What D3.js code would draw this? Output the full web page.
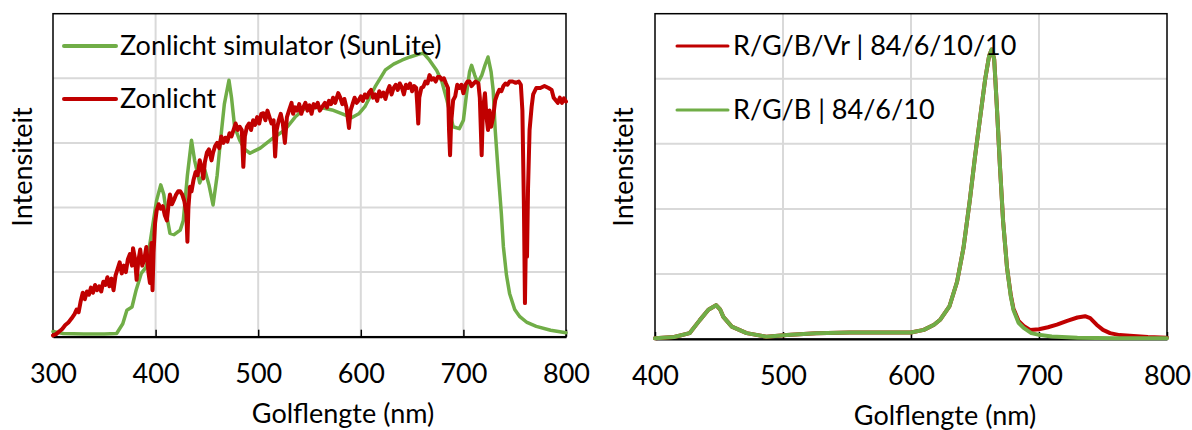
<!DOCTYPE html>
<html>
<head>
<meta charset="utf-8">
<script src="https://cdn.jsdelivr.net/npm/d3@7/dist/d3.min.js"></script>
<style>
html,body{margin:0;padding:0;background:#fff;}
svg{display:block;}
text{font-family:Lato,"Open Sans",sans-serif;fill:#000;}
</style>
</head>
<body>
<svg id="chart" width="1192" height="430"></svg>
<script>
// ---------- Data ----------
const xTicks = [300, 400, 500, 600, 700, 800];
const xTicksRight = [400, 500, 600, 700, 800];
const yGrid = [0, 1, 2, 3, 4, 5];

// Left panel: Zonlicht simulator (SunLite)
const simWl = [300,310,330,350,362,368,372,377,381,386,391,396,401,405,408,411,414,418,424,427,431,435,438,443,448,452,456,460,463,467,471.5,474,477,482,487,492,497,502,514,526,536,546,560,572,582,591,598,604,614,624,632,640,648,656,661,667,674,679,684,690,696,700,703,706,708,711,714,718,721,724,727,729,731,734,737,739,742,745,750,755,762,771,785,800];
const simVal = [0.08,0.05,0.04,0.04,0.05,0.2,0.41,0.46,0.72,0.98,1.08,1.6,2.11,2.35,2.2,1.86,1.6,1.58,1.65,1.8,2.5,3.04,2.73,2.38,2.58,2.35,2.04,2.5,3.0,3.6,3.97,3.7,3.25,3.04,2.9,2.84,2.88,2.92,3.07,3.2,3.4,3.54,3.55,3.51,3.45,3.39,3.45,3.56,3.87,4.13,4.22,4.28,4.33,4.37,4.39,4.28,4.12,3.95,3.66,3.25,3.22,3.35,3.75,4.1,4.2,4.05,3.93,4.05,4.2,4.33,4.1,3.82,3.2,2.53,1.9,1.39,0.95,0.67,0.42,0.31,0.22,0.16,0.1,0.06];

// Left panel: Zonlicht
const sunWl = [300,303,306,309,312,315,318,321,323,325,327,329,331,333,335,337,339,341,343,345,347,349,351,353,355,357,359,361,363,365,367,369,371,373,375,377,378,380,381.5,383,385,387,389,391,393,394.5,396,397,398,399.5,401,403,405,407,409,411,413,414,416,418,420,422,424,426,428,430,431,432,433.5,435,437,439,441,443,445,446.5,448,450,452,454.5,456,458,460,462,464,466,468,470,472,474,476,478,480,482,484,485.5,487,489,491,493,495,497,499,501,503,505,507,509,511,513,515,516.5,518,520,522,524,526,528,530,532.5,534,536,538,540,542,544,546,548,550,552,554,556,558,560,562,565,567,569,571,573,575,578,580,582,584,586,588.5,590,592,594,596,598,600,602,604,606,608,610,612,614,616,618,620,622,624,626,628,630,632,634,636,638,640,642,644,646,648,650,652,654,655,656,657,659,661,663,665,667,669,671,673,675,677,679,681,683,685,686,687,688,690,692,694,696,698,700,702,704,706,708,710,712,714.6,716,717.8,719,721,722.5,724,725.5,727,729,731,733,735,737,739,741,743,745,748,751,754,756,757.5,759,760,761,762,763,764.5,766.5,768,771,775,779,783,786,788,790,792,794,796,798,800];
const sunVal = [0.02,0.04,0.08,0.12,0.18,0.22,0.28,0.35,0.42,0.38,0.55,0.68,0.58,0.7,0.65,0.76,0.68,0.8,0.72,0.78,0.7,0.85,0.8,0.92,0.78,0.9,0.72,0.95,1.05,1.15,0.98,1.1,1.0,1.2,1.28,1.1,1.37,1.2,0.88,1.15,1.35,1.1,1.2,1.39,1.0,0.83,1.45,0.72,1.3,1.76,1.95,2.05,1.98,2.02,1.88,1.8,2.1,2.2,2.05,2.12,2.2,2.25,2.25,2.2,2.1,1.9,1.47,2.0,2.32,2.25,2.43,2.55,2.5,2.73,2.6,2.45,2.7,2.85,2.9,2.73,2.85,2.95,3.0,2.92,3.1,3.0,3.08,3.02,3.15,3.1,3.2,3.3,3.2,3.25,3.2,2.63,3.1,3.25,3.3,3.2,3.35,3.28,3.4,3.3,3.45,3.46,3.35,3.5,3.4,3.3,3.35,2.79,3.2,3.35,3.45,3.3,3.0,3.4,3.5,3.62,3.45,3.55,3.5,3.6,3.45,3.55,3.62,3.5,3.58,3.45,3.6,3.55,3.62,3.5,3.55,3.62,3.55,3.65,3.6,3.7,3.62,3.77,3.7,3.6,3.68,3.55,3.23,3.5,3.6,3.7,3.62,3.66,3.72,3.65,3.75,3.7,3.78,3.82,3.7,3.75,3.65,3.8,3.72,3.78,3.68,3.8,3.88,3.75,3.85,3.9,3.82,3.92,3.86,3.75,3.9,3.85,3.92,3.8,3.88,3.85,3.6,3.3,3.7,3.85,3.87,3.95,3.92,4.05,3.98,4.0,3.95,4.02,4.02,3.98,4.0,3.92,3.85,3.2,2.81,3.3,3.66,3.72,3.9,3.85,3.9,3.77,3.9,3.95,3.95,3.88,3.92,3.95,3.92,3.7,2.81,3.5,3.77,3.4,3.2,3.5,3.25,3.4,3.66,3.75,3.82,3.8,3.88,3.92,3.9,3.95,3.95,3.93,3.95,3.9,3.5,2.0,0.52,1.6,1.24,2.3,3.2,3.56,3.75,3.85,3.85,3.88,3.85,3.82,3.7,3.66,3.62,3.7,3.62,3.69,3.64];

// Right panel: R/G/B | 84/6/10
const rgbWl = [400,415,427,435,441.7,447.7,451,453.4,460,471.6,487,503,526,552,575,600,610,618,623,630,636,641,646,650,654,658,661,663,665,667,669.5,672,675,678,680,684,688,694,701,710,730,760,800];
const rgbVal = [0.01,0.03,0.09,0.29,0.45,0.52,0.45,0.34,0.19,0.09,0.035,0.06,0.09,0.1,0.1,0.1,0.14,0.22,0.3,0.5,0.88,1.4,2.14,2.8,3.4,4.0,4.35,4.45,4.3,3.6,2.65,1.8,1.1,0.65,0.45,0.25,0.17,0.09,0.06,0.04,0.02,0.01,0.01];

// Right panel: R/G/B/Vr | 84/6/10/10
const rgbvrWl = [400,415,427,435,441.7,447.7,451,453.4,460,471.6,487,503,526,552,575,600,610,618,623,630,636,641,646,650,654,658,661,663,665,667,669.5,672,675,678,680,684,688,693,700,707,714,722,730,736,740,745,750,755.5,763,771,785,800];
const rgbvrVal = [0.01,0.03,0.09,0.29,0.45,0.52,0.45,0.34,0.19,0.09,0.035,0.06,0.09,0.1,0.1,0.1,0.14,0.22,0.3,0.5,0.88,1.4,2.14,2.8,3.4,4.0,4.35,4.45,4.3,3.6,2.65,1.8,1.1,0.67,0.47,0.28,0.2,0.14,0.15,0.18,0.22,0.28,0.33,0.35,0.32,0.22,0.14,0.09,0.06,0.05,0.03,0.02];

const RED = "#C00000", GREEN = "#70AD47", GRID = "#D9D9D9";
const FS = 27;

const svg = d3.select("#chart");

function panel(opts) {
  const g = svg.append("g");
  const x = d3.scaleLinear().domain(opts.xDomain).range([opts.left, opts.right]);
  const y = d3.scaleLinear().domain([0, 5]).range([opts.bottom, opts.top]);

  // grid
  g.append("g").selectAll("line").data(opts.xTicks.slice(1, -1)).join("line")
    .attr("x1", d => x(d)).attr("x2", d => x(d))
    .attr("y1", opts.top).attr("y2", opts.bottom)
    .attr("stroke", GRID).attr("stroke-width", 2);
  g.append("g").selectAll("line").data(yGrid.slice(1, -1)).join("line")
    .attr("x1", opts.left).attr("x2", opts.right)
    .attr("y1", d => y(d)).attr("y2", d => y(d))
    .attr("stroke", GRID).attr("stroke-width", 2);

  // border
  g.append("rect").attr("x", opts.left).attr("y", opts.top)
    .attr("width", opts.right - opts.left).attr("height", opts.bottom - opts.top)
    .attr("fill", "none").attr("stroke", "#000").attr("stroke-width", 1.5);

  // x axis
  const ax = g.append("g").attr("transform", `translate(0,${opts.bottom})`)
    .call(d3.axisBottom(x).tickValues(opts.xTicks).tickFormat(d3.format("d"))
      .tickSizeInner(-7).tickSizeOuter(0).tickPadding(27));
  ax.select(".domain").attr("stroke", "#000").attr("stroke-width", 2);
  ax.selectAll(".tick line").attr("stroke", "#000").attr("stroke-width", 1.5);
  ax.selectAll(".tick text").attr("font-size", FS).attr("font-family", "Lato");

  // series
  const line = d3.line().x(d => x(d[0])).y(d => y(d[1])).curve(d3.curveLinear);
  opts.series.forEach(s => {
    const pts = s.wl.map((w, i) => [w, s.val[i]]);
    g.append("path").datum(pts).attr("d", line)
      .attr("fill", "none").attr("stroke", s.color).attr("stroke-width", s.width)
      .attr("stroke-linejoin", "round").attr("stroke-linecap", "round");
  });

  // axis titles
  g.append("text").attr("x", opts.xTitleX).attr("y", opts.xTitleY)
    .attr("text-anchor", "middle").attr("font-size", FS).text("Golflengte (nm)");
  g.append("text").attr("transform", `translate(${opts.yTitleX},${opts.yTitleY}) rotate(-90)`)
    .attr("text-anchor", "middle").attr("dy", "0.35em").attr("font-size", FS).text("Intensiteit");

  // legend
  opts.legend.forEach(l => {
    g.append("line").attr("x1", l.x1).attr("x2", l.x2).attr("y1", l.y).attr("y2", l.y)
      .attr("stroke", l.color).attr("stroke-width", l.width).attr("stroke-linecap", "round");
    g.append("text").attr("x", l.tx).attr("y", l.y).attr("dy", "0.35em")
      .attr("font-size", FS).text(l.label);
  });
}

panel({
  xDomain: [300, 800], xTicks: xTicks,
  left: 53, right: 566, top: 13.7, bottom: 336.7,
  xTitleX: 343, xTitleY: 423, yTitleX: 23, yTitleY: 167,
  series: [
    {wl: simWl, val: simVal, color: GREEN, width: 3.5},
    {wl: sunWl, val: sunVal, color: RED, width: 4}
  ],
  legend: [
    {x1: 64, x2: 116, y: 46, tx: 120, color: GREEN, width: 4, label: "Zonlicht simulator (SunLite)"},
    {x1: 64, x2: 116, y: 99, tx: 120, color: RED, width: 4, label: "Zonlicht"}
  ]
});

panel({
  xDomain: [400, 800], xTicks: xTicksRight,
  left: 655, right: 1167, top: 13.7, bottom: 339,
  xTitleX: 945, xTitleY: 425, yTitleX: 624, yTitleY: 167,
  series: [
    {wl: rgbvrWl, val: rgbvrVal, color: RED, width: 4},
    {wl: rgbWl, val: rgbVal, color: GREEN, width: 4}
  ],
  legend: [
    {x1: 677, x2: 728, y: 46, tx: 733, color: RED, width: 3, label: "R/G/B/Vr | 84/6/10/10"},
    {x1: 677, x2: 728, y: 110, tx: 733, color: GREEN, width: 3, label: "R/G/B | 84/6/10"}
  ]
});
</script>
</body>
</html>
